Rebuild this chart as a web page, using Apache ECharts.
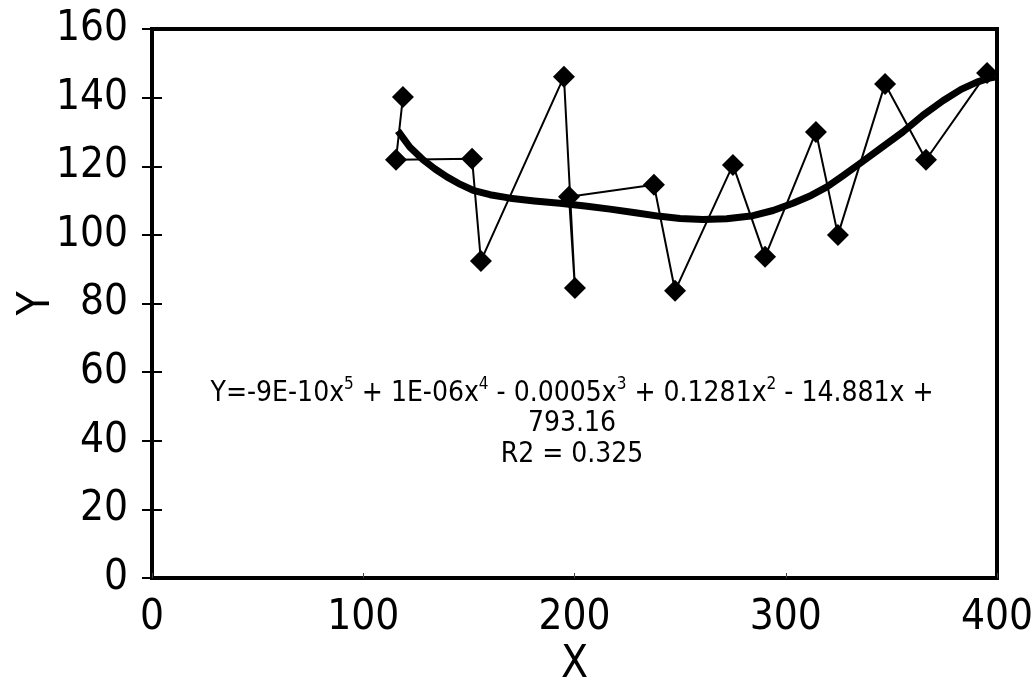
<!DOCTYPE html>
<html>
<head>
<meta charset="utf-8">
<script src="https://cdn.jsdelivr.net/npm/echarts@6/dist/echarts.min.js"></script>
<style>html,body{margin:0;padding:0;background:#fff}#c{width:1034px;height:687px}</style>
</head>
<body>
<div id="c"></div>
<script>
var dataX = [118.8, 115.5, 151.5, 155.7, 195.0, 200.2, 197.4, 237.6, 247.6, 275.0, 290.2, 314.3, 324.7, 347.0, 366.4, 395.3];
var dataY = [140.2, 121.9, 122.2, 92.4, 146.1, 84.5, 111.1, 114.6, 83.7, 120.4, 93.6, 130.0, 100.0, 144.0, 121.9, 147.2];
// Trendline
var trendX = [116.4, 122.0, 128.3, 134.0, 139.6, 146.0, 152.0, 160.0, 169.5, 181.0, 193.1, 205.0, 216.8, 228.0, 240.5, 250.0, 260.8, 272.0, 284.5, 294.0, 303.4, 312.0, 319.5, 327.0, 335.1, 345.0, 355.5, 365.0, 374.4, 383.0, 390.5, 396.0, 399.0];
var trendY = [130.3, 125.6, 121.9, 119.2, 116.9, 114.7, 113.0, 111.7, 110.7, 109.9, 109.2, 108.4, 107.5, 106.5, 105.4, 104.8, 104.5, 104.7, 105.6, 107.1, 109.2, 111.5, 114.0, 117.2, 120.8, 125.3, 130.0, 134.9, 139.1, 142.4, 144.5, 145.6, 146.0];
var xTicks = [0, 100, 200, 300, 400];
var yTicks = [0, 20, 40, 60, 80, 100, 120, 140, 160];

var FONT = '"Liberation Sans Narrow", "DejaVu Sans Condensed", "Liberation Sans", sans-serif';

function zip(a, b) { return a.map(function (v, i) { return [v, b[i]]; }); }

var chart = echarts.init(document.getElementById('c'));
var txtSize = 28;
var rich = {
  n: { fontSize: txtSize, fontFamily: FONT, color: '#000', lineHeight: 32, verticalAlign: 'bottom' },
  s: { fontSize: 17, fontFamily: FONT, color: '#000', lineHeight: 32, verticalAlign: 'top' }
};
chart.setOption({
  animation: false,
  backgroundColor: '#fff',
  grid: { left: 152, right: 37, top: 29, bottom: 109, show: true, borderColor: '#000', borderWidth: 4,
          containLabel: false, outerBoundsMode: 'none' },
  xAxis: {
    type: 'value', min: xTicks[0], max: xTicks[xTicks.length - 1], interval: 100,
    name: 'X', nameLocation: 'middle', nameGap: 60,
    nameTextStyle: { fontSize: 44, fontFamily: FONT, color: '#000' },
    axisLine: { show: true, lineStyle: { color: '#000', width: 4 } },
    axisTick: { show: true, inside: true, length: 5, lineStyle: { color: '#444', width: 1 } },
    axisLabel: { fontSize: 42, fontFamily: FONT, color: '#000', margin: 19 },
    splitLine: { show: false }
  },
  yAxis: [{
    type: 'value', min: yTicks[0], max: yTicks[yTicks.length - 1], interval: 20,
    name: 'Y', nameLocation: 'middle', nameGap: 92, nameRotate: 90, nameMoveOverlap: false,
    nameTextStyle: { fontSize: 44, fontFamily: FONT, color: '#000' },
    axisLine: { show: true, lineStyle: { color: '#000', width: 4 } },
    axisTick: { show: true, length: 10, lineStyle: { color: '#000', width: 2 } },
    axisLabel: { fontSize: 42, fontFamily: FONT, color: '#000', margin: 24 },
    splitLine: { show: false }
  }, {
    type: 'value', position: 'left', min: yTicks[0], max: yTicks[yTicks.length - 1], interval: 20,
    axisLine: { show: false },
    axisTick: { show: true, inside: true, length: 10, lineStyle: { color: '#000', width: 2 } },
    axisLabel: { show: false },
    splitLine: { show: false }
  }],
  series: [{
    type: 'line', data: zip(dataX, dataY),
    symbol: 'diamond', symbolSize: 22,
    itemStyle: { color: '#000' },
    lineStyle: { color: '#000', width: 2 },
    z: 3
  }, {
    type: 'line', data: zip(trendX, trendY), smooth: false,
    symbol: 'none',
    lineStyle: { color: '#000', width: 7, join: 'round', cap: 'butt' },
    z: 4
  }],
  graphic: [{
    type: 'text', x: 572, y: 376,
    style: {
      text: '{n|Y=-9E-10x}{s|5}{n| + 1E-06x}{s|4}{n| - 0.0005x}{s|3}{n| + 0.1281x}{s|2}{n| - 14.881x +}',
      rich: rich, align: 'center', verticalAlign: 'top'
    }
  }, {
    type: 'text', x: 572, y: 410,
    style: { text: '793.16', font: txtSize + 'px ' + FONT, fill: '#000', align: 'center', verticalAlign: 'top' }
  }, {
    type: 'text', x: 572, y: 441,
    style: { text: 'R2 = 0.325', font: txtSize + 'px ' + FONT, fill: '#000', align: 'center', verticalAlign: 'top' }
  }]
});
</script>
</body>
</html>
